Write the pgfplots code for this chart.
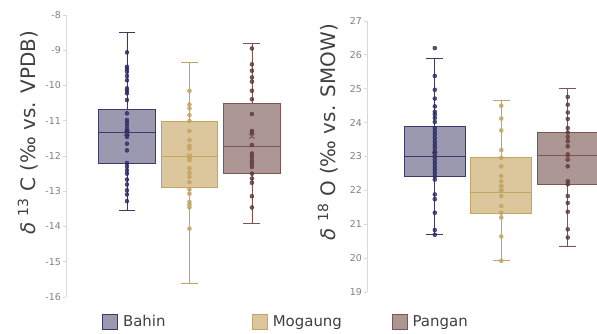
\documentclass[border=0pt]{standalone}
\usepackage{pgfplots}
\pgfplotsset{compat=1.18}
\usepgfplotslibrary{statistics}
\usepackage{fontspec}
\setmainfont{DejaVu Sans}

\definecolor{bFill}{HTML}{9B99B0}
\definecolor{bEdge}{HTML}{3B3B6B}
\definecolor{bPt}{HTML}{2B2B66}
\definecolor{mFill}{HTML}{DCC69C}
\definecolor{mEdge}{HTML}{C4A462}
\definecolor{mPt}{HTML}{C4A25E}
\definecolor{pFill}{HTML}{AD9794}
\definecolor{pEdge}{HTML}{7D5555}
\definecolor{pPt}{HTML}{5C3A3A}
\definecolor{lineGray}{HTML}{D9D9D9}
\definecolor{tickGray}{HTML}{808080}
\definecolor{labGray}{HTML}{404040}

\pgfplotsset{
  panel/.style={
    scale only axis,
    anchor=south west,
    axis x line=none,
    axis y line=left,
    y axis line style={-, draw=lineGray, line width=0.8pt},
    ytick style={draw=lineGray, line width=0.8pt},
    major tick length=3bp,
    tick align=outside,
    yticklabel style={font=\fontsize{9.5}{10}\selectfont, text=tickGray, inner sep=2bp},
    /pgf/number format/assume math mode=true,
    ylabel style={font=\fontsize{20}{24}\selectfont, text=labGray},
    boxplot/draw direction=y,
    clip=false,
  },
  pts/.style={only marks, mark=*, mark size=2bp, forget plot},
  meanmark/.style={only marks, mark=x, mark size=3.5bp, forget plot},
}

\begin{document}
\begin{tikzpicture}
\path[use as bounding box] (0bp,0bp) rectangle (597bp,334bp);

% ---------------- Left panel: d13C ----------------
\begin{axis}[panel,
  at={(66bp,37bp)}, width=234bp, height=282bp,
  xmin=0.024, xmax=3.77, ymin=-16, ymax=-8,
  ytick={-16,-15,...,-8},
  ylabel={{\itshape δ} \textsuperscript{13} C (‰ vs. VPDB)},
  ylabel style={at={(axis description cs:-0.162,0.582)}, anchor=center},
  boxplot/box extend=0.91,
  boxplot/whisker extend=0.27,
  legend columns=3,
  legend style={at={(axis description cs:0.154,-0.0887)}, anchor=west, draw=none, fill=none,
    inner sep=0pt, font=\fontsize{15}{18}\selectfont, text=labGray,
    nodes={inner sep=0pt},
    /tikz/every odd column/.append style={column sep=5bp},
    /tikz/every even column/.append style={column sep=0bp}},
  legend image code/.code={\draw[#1] (0bp,-7.5bp) rectangle (15bp,7.5bp);},
]
\addlegendimage{fill=bFill, draw=bEdge, line width=0.8pt}
\addlegendentry{\makebox[129bp][l]{Bahin}}
\addlegendimage{fill=mFill, draw=mEdge, line width=0.8pt}
\addlegendentry{\makebox[119bp][l]{Mogaung}}
\addlegendimage{fill=pFill, draw=pEdge, line width=0.8pt}
\addlegendentry{Pangan}

\addplot+[forget plot, mark=none, solid, draw=bEdge, fill=bFill, line width=0.8pt,
  boxplot prepared={draw position=1, lower whisker=-13.54, lower quartile=-12.2,
  median=-11.33, upper quartile=-10.68, upper whisker=-8.49}] coordinates {};
\addplot+[forget plot, mark=none, solid, draw=mEdge, fill=mFill, line width=0.8pt,
  boxplot prepared={draw position=2, lower whisker=-15.6, lower quartile=-12.9,
  median=-12.02, upper quartile=-11.01, upper whisker=-9.34}] coordinates {};
\addplot+[forget plot, mark=none, solid, draw=pEdge, fill=pFill, line width=0.8pt,
  boxplot prepared={draw position=3, lower whisker=-13.92, lower quartile=-12.48,
  median=-11.74, upper quartile=-10.51, upper whisker=-8.8}] coordinates {};

\addplot[pts, mark options={fill=bPt, draw=bPt, fill opacity=0.8}] coordinates {
(1,-9.06)(1,-9.47)(1,-9.53)(1,-9.61)(1,-9.73)(1,-9.85)(1,-10.08)(1,-10.15)(1,-10.22)
(1,-10.41)(1,-10.79)(1,-10.98)(1,-11.06)(1,-11.15)(1,-11.25)(1,-11.31)(1,-11.39)
(1,-11.46)(1,-11.65)(1,-11.84)(1,-12.2)(1,-12.29)(1,-12.40)(1,-12.5)(1,-12.67)
(1,-12.81)(1,-12.97)(1,-13.09)(1,-13.28)};
\addplot[pts, mark options={fill=mPt, draw=mPt, fill opacity=0.8}] coordinates {
(2,-10.15)(2,-10.54)(2,-10.65)(2,-10.84)(2,-11.01)(2,-11.29)(2,-11.55)(2,-11.71)
(2,-11.79)(2,-12.02)(2,-12.12)(2,-12.35)(2,-12.48)(2,-12.59)(2,-12.74)(2,-12.95)
(2,-13.07)(2,-13.3)(2,-13.38)(2,-13.46)(2,-14.06)};
\addplot[pts, mark options={fill=pPt, draw=pPt, fill opacity=0.8}] coordinates {
(3,-8.95)(3,-9.40)(3,-9.58)(3,-9.77)(3,-9.89)(3,-10.15)(3,-10.39)(3,-10.81)(3,-11.29)
(3,-11.36)(3,-11.69)(3,-11.93)(3,-12.02)(3,-12.12)(3,-12.21)(3,-12.31)(3,-12.50)
(3,-12.64)(3,-12.76)(3,-13.14)(3,-13.46)};
\addplot[meanmark, mark options={draw=bEdge, line width=1pt}] coordinates {(1,-11.35)};
\addplot[meanmark, mark options={draw=mEdge, line width=1pt}] coordinates {(2,-12.0)};
\addplot[meanmark, mark options={draw=pEdge, line width=1pt}] coordinates {(3,-11.44)};
\end{axis}

% ---------------- Right panel: d18O ----------------
\begin{axis}[panel,
  at={(367bp,42bp)}, width=230bp, height=271bp,
  xmin=-0.02, xmax=3.44, ymin=19, ymax=27,
  ytick={19,20,...,27},
  ylabel={{\itshape δ} \textsuperscript{18} O (‰ vs. SMOW)},
  ylabel style={at={(axis description cs:-0.170,0.590)}, anchor=center},
  boxplot/box extend=0.92,
  boxplot/whisker extend=0.26,
]
\addplot+[forget plot, mark=none, solid, draw=bEdge, fill=bFill, line width=0.8pt,
  boxplot prepared={draw position=1, lower whisker=20.69, lower quartile=22.40,
  median=23.01, upper quartile=23.89, upper whisker=25.9}] coordinates {};
\addplot+[forget plot, mark=none, solid, draw=mEdge, fill=mFill, line width=0.8pt,
  boxplot prepared={draw position=2, lower whisker=19.92, lower quartile=21.31,
  median=21.93, upper quartile=22.96, upper whisker=24.65}] coordinates {};
\addplot+[forget plot, mark=none, solid, draw=pEdge, fill=pFill, line width=0.8pt,
  boxplot prepared={draw position=3, lower whisker=20.36, lower quartile=22.18,
  median=23.03, upper quartile=23.71, upper whisker=25.0}] coordinates {};

\addplot[pts, mark options={fill=bPt, draw=bPt, fill opacity=0.8}] coordinates {
(1,26.2)(1,25.38)(1,24.97)(1,24.71)(1,24.48)(1,24.32)(1,24.24)(1,24.14)(1,24.02)
(1,23.84)(1,23.74)(1,23.65)(1,23.55)(1,23.45)(1,23.35)(1,23.26)(1,23.16)(1,23.09)
(1,23.01)(1,22.91)(1,22.81)(1,22.71)(1,22.62)(1,22.52)(1,22.42)(1,22.32)(1,21.88)
(1,21.74)(1,21.34)(1,20.83)(1,20.69)};
\addplot[pts, mark options={fill=mPt, draw=mPt, fill opacity=0.8}] coordinates {
(2,24.5)(2,24.12)(2,23.77)(2,23.19)(2,22.96)(2,22.71)(2,22.42)(2,22.27)(2,22.13)
(2,21.98)(2,21.83)(2,21.54)(2,21.34)(2,21.20)(2,20.64)(2,19.92)};
\addplot[pts, mark options={fill=pPt, draw=pPt, fill opacity=0.8}] coordinates {
(3,24.76)(3,24.53)(3,24.30)(3,24.11)(3,23.84)(3,23.71)(3,23.58)(3,23.45)(3,23.30)
(3,23.06)(3,22.91)(3,22.71)(3,22.27)(3,22.18)(3,21.83)(3,21.63)(3,21.37)(3,20.85)
(3,20.61)};
\addplot[meanmark, mark options={draw=bEdge, line width=1pt}] coordinates {(1,23.05)};
\addplot[meanmark, mark options={draw=mEdge, line width=1pt}] coordinates {(2,22.07)};
\addplot[meanmark, mark options={draw=pEdge, line width=1pt}] coordinates {(3,22.96)};
\end{axis}
\end{tikzpicture}
\end{document}
